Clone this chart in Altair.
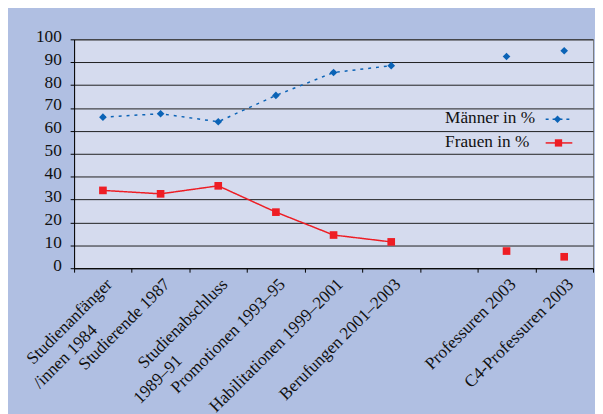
import altair as alt
import pandas as pd

# ---- data ----
categories = [
    "Studienanfänger|/innen 1984",
    "Studierende 1987",
    "Studienabschluss|1989–91",
    "Promotionen 1993–95",
    "Habilitationen 1999–2001",
    "Berufungen 2001–2003",
    "",
    "Professuren 2003",
    "C4-Professuren 2003",
]
maenner = [66, 67.5, 64, 75.5, 85.5, 88.5, None, 92.5, 95]
frauen = [34, 32.5, 36, 24.5, 14.5, 11.5, None, 7.5, 5]
connected = [True, True, True, True, True, True, False, False, False]
series_names = ["Männer in %", "Frauen in %"]

BLUE = "#0b63b6"
RED = "#ee1d24"
FONT = "Liberation Serif"
TXT = "#111111"

rows = []
for s, vals in zip(series_names, [maenner, frauen]):
    for c, v, con in zip(categories, vals, connected):
        if v is not None:
            rows.append({"cat": c, "series": s, "value": v, "connected": con})
df = pd.DataFrame(rows)

EN = "\u2002"
ZW = "\u200b"
label_expr = (
    "length(split(datum.label,'|'))>1 ? "
    "[split(datum.label,'|')[0], pad(split(datum.label,'|')[1], length(split(datum.label,'|')[0]) + 1, '"
    + EN + "') + '" + ZW + "']"
    " : datum.label"
)

x_enc = alt.X(
    "cat:N",
    sort=categories,
    bandPosition=0.5,
    scale=alt.Scale(type="band", domain=categories, paddingInner=0, paddingOuter=0),
    axis=alt.Axis(
        title=None,
        grid=False,
        tickBand="extent",
        tickSize=4,
        tickColor="#000",
        domainColor="#000",
        labelAngle=-45,
        labelAlign="right",
        labelBaseline="top",
        labelFont=FONT,
        labelFontSize=17.5,
        labelColor=TXT,
        labelPadding=3,
        labelLineHeight=22,
        labelLimit=400,
        labelOverlap=False,
        labelBound=False,
        labelExpr=label_expr,
    ),
)
y_enc = alt.Y(
    "value:Q",
    scale=alt.Scale(domain=[0, 100], nice=False),
    axis=alt.Axis(
        title=None,
        values=list(range(0, 101, 10)),
        tickSize=4,
        tickColor="#000",
        domainColor="#000",
        gridColor="#1e1e1e",
        gridWidth=1,
        labelFont=FONT,
        labelFontSize=17.5,
        labelColor=TXT,
        labelPadding=9,
        labelOffset=-3,
    ),
)
color_enc = alt.Color(
    "series:N", scale=alt.Scale(domain=series_names, range=[BLUE, RED]), legend=None
)

lines = (
    alt.Chart(df)
    .transform_filter("datum.connected")
    .mark_line(strokeWidth=1.5)
    .encode(
        x=x_enc,
        y=y_enc,
        color=color_enc,
        strokeDash=alt.StrokeDash(
            "series:N",
            scale=alt.Scale(domain=series_names, range=[[3, 5], [1, 0]]),
            legend=None,
        ),
        detail="series:N",
    )
)
points = (
    alt.Chart(df)
    .mark_point(filled=True, opacity=1, size=60)
    .encode(
        x=x_enc,
        y=y_enc,
        color=color_enc,
        shape=alt.Shape(
            "series:N",
            scale=alt.Scale(domain=series_names, range=["diamond", "square"]),
            legend=None,
        ),
    )
)

one = alt.Data(values=[{}])
leg_text_m = alt.Chart(one).mark_text(
    align="left", baseline="middle", font=FONT, fontSize=17.5, color=TXT
).encode(x=alt.value(376), y=alt.value(80), text=alt.value(series_names[0]))
leg_text_f = alt.Chart(one).mark_text(
    align="left", baseline="middle", font=FONT, fontSize=17.5, color=TXT
).encode(x=alt.value(376), y=alt.value(104), text=alt.value(series_names[1]))
leg_rule_m = alt.Chart(one).mark_rule(color=BLUE, strokeWidth=1.5, strokeDash=[3, 4]).encode(
    x=alt.value(478), x2=alt.value(503), y=alt.value(81)
)
leg_rule_f = alt.Chart(one).mark_rule(color=RED, strokeWidth=1.5).encode(
    x=alt.value(478), x2=alt.value(505), y=alt.value(105)
)
leg_pt_m = alt.Chart(one).mark_point(filled=True, opacity=1, size=55, shape="diamond", color=BLUE).encode(
    x=alt.value(490), y=alt.value(81)
)
leg_pt_f = alt.Chart(one).mark_point(filled=True, opacity=1, size=55, shape="square", color=RED).encode(
    x=alt.value(491), y=alt.value(105)
)

chart = (
    alt.layer(lines, points, leg_rule_m, leg_rule_f, leg_pt_m, leg_pt_f, leg_text_m, leg_text_f)
    .properties(
        width=526,
        height=232,
        padding={"left": 67, "top": 29, "right": 2, "bottom": 145},
        autosize=alt.AutoSizeParams(type="none"),
        background="#b0bfe2",
    )
    .configure_view(fill="#d5dbee", stroke="#7a7a7a", strokeWidth=1)
)

chart.save("out.html", embed_options={"renderer": "svg", "actions": False})
